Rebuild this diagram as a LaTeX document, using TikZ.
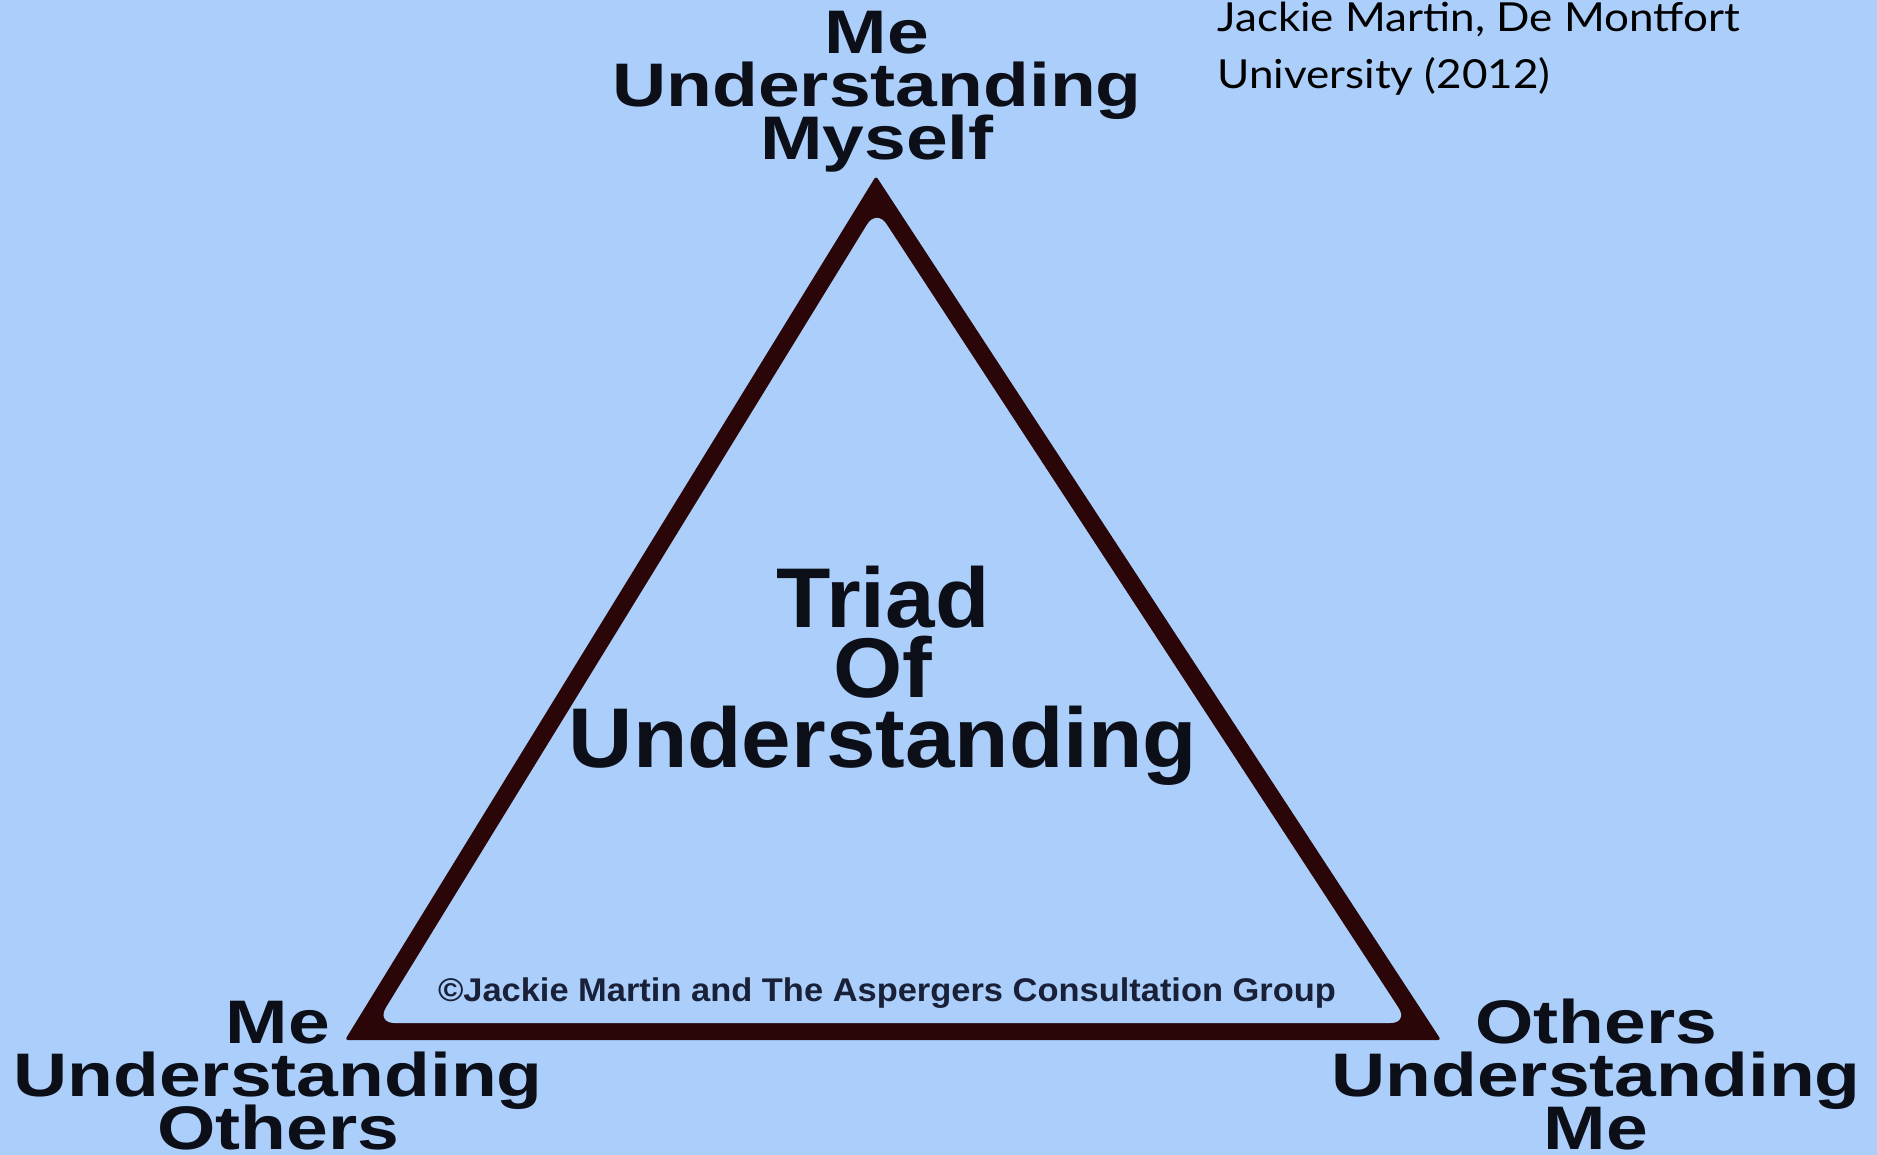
\documentclass[tikz,border=0pt]{standalone}
\usepackage{fontspec}
\usepackage{tikz}
\setmainfont{Liberation Sans}
\newfontfamily\labelfont[FakeStretch=1.22]{Liberation Sans}
\newfontfamily\titlefont[FakeStretch=1.05]{Liberation Sans}
\newfontfamily\creditfont[FakeStretch=1.1]{Lato}
\definecolor{skyback}{RGB}{171,207,250}
\definecolor{triedge}{RGB}{42,6,8}
\definecolor{inktext}{RGB}{12,14,24}
\definecolor{smallink}{RGB}{25,32,55}
\lineskiplimit=-100pt

\begin{document}
\begin{tikzpicture}
  [x=0.5pt,y=-0.5pt,
   corner/.style={inner sep=0pt, anchor=base, align=center, text=inktext,
     font=\labelfont\bfseries\fontsize{30.75}{26.5}\selectfont},
   title/.style={inner sep=0pt, anchor=base, align=center, text=inktext,
     font=\titlefont\bfseries\fontsize{42.4}{35}\selectfont},
   note/.style={inner sep=0pt, anchor=base, text=smallink,
     font=\titlefont\bfseries\fontsize{16.4}{18}\selectfont},
   credit/.style={inner sep=0pt, anchor=base west, align=left,
     font=\creditfont\fontsize{20}{28.5}\selectfont}]
  \fill[skyback] (0,0) rectangle (1877,1155);
  \useasboundingbox (0,0) rectangle (1877,1155);
  % outer and inner corners of the triangle
  \coordinate (apex) at (876,176);
  \coordinate (left) at (345,1040);
  \coordinate (right) at (1441,1040);
  \coordinate (apexin) at (876.6,209);
  \coordinate (leftin) at (376.5,1023);
  \coordinate (rightin) at (1408.4,1023);
  \fill[triedge, rounded corners=1.5pt] (apex) -- (left) -- (right) -- cycle;
  \fill[skyback, rounded corners=9pt] (apexin) -- (leftin) -- (rightin) -- cycle;
  % labels (anchored on the baseline of their last line)
  \node[corner] (myself) at (877,160) {Me\\Understanding\\Myself};
  \node[corner] (others) at (278,1149) {Me\\Understanding\\Others};
  \node[corner] (me) at (1596,1149) {Others\\Understanding\\Me};
  \node[title] (triad) at (883,767) {Triad\\Of\\Understanding};
  \node[note] (owner) at (887,1001) {©Jackie Martin and The Aspergers Consultation Group};
  \node[credit] (source) at (1217,89) {Jackie Martin, De Montfort\\University (2012)};
\end{tikzpicture}
\end{document}
